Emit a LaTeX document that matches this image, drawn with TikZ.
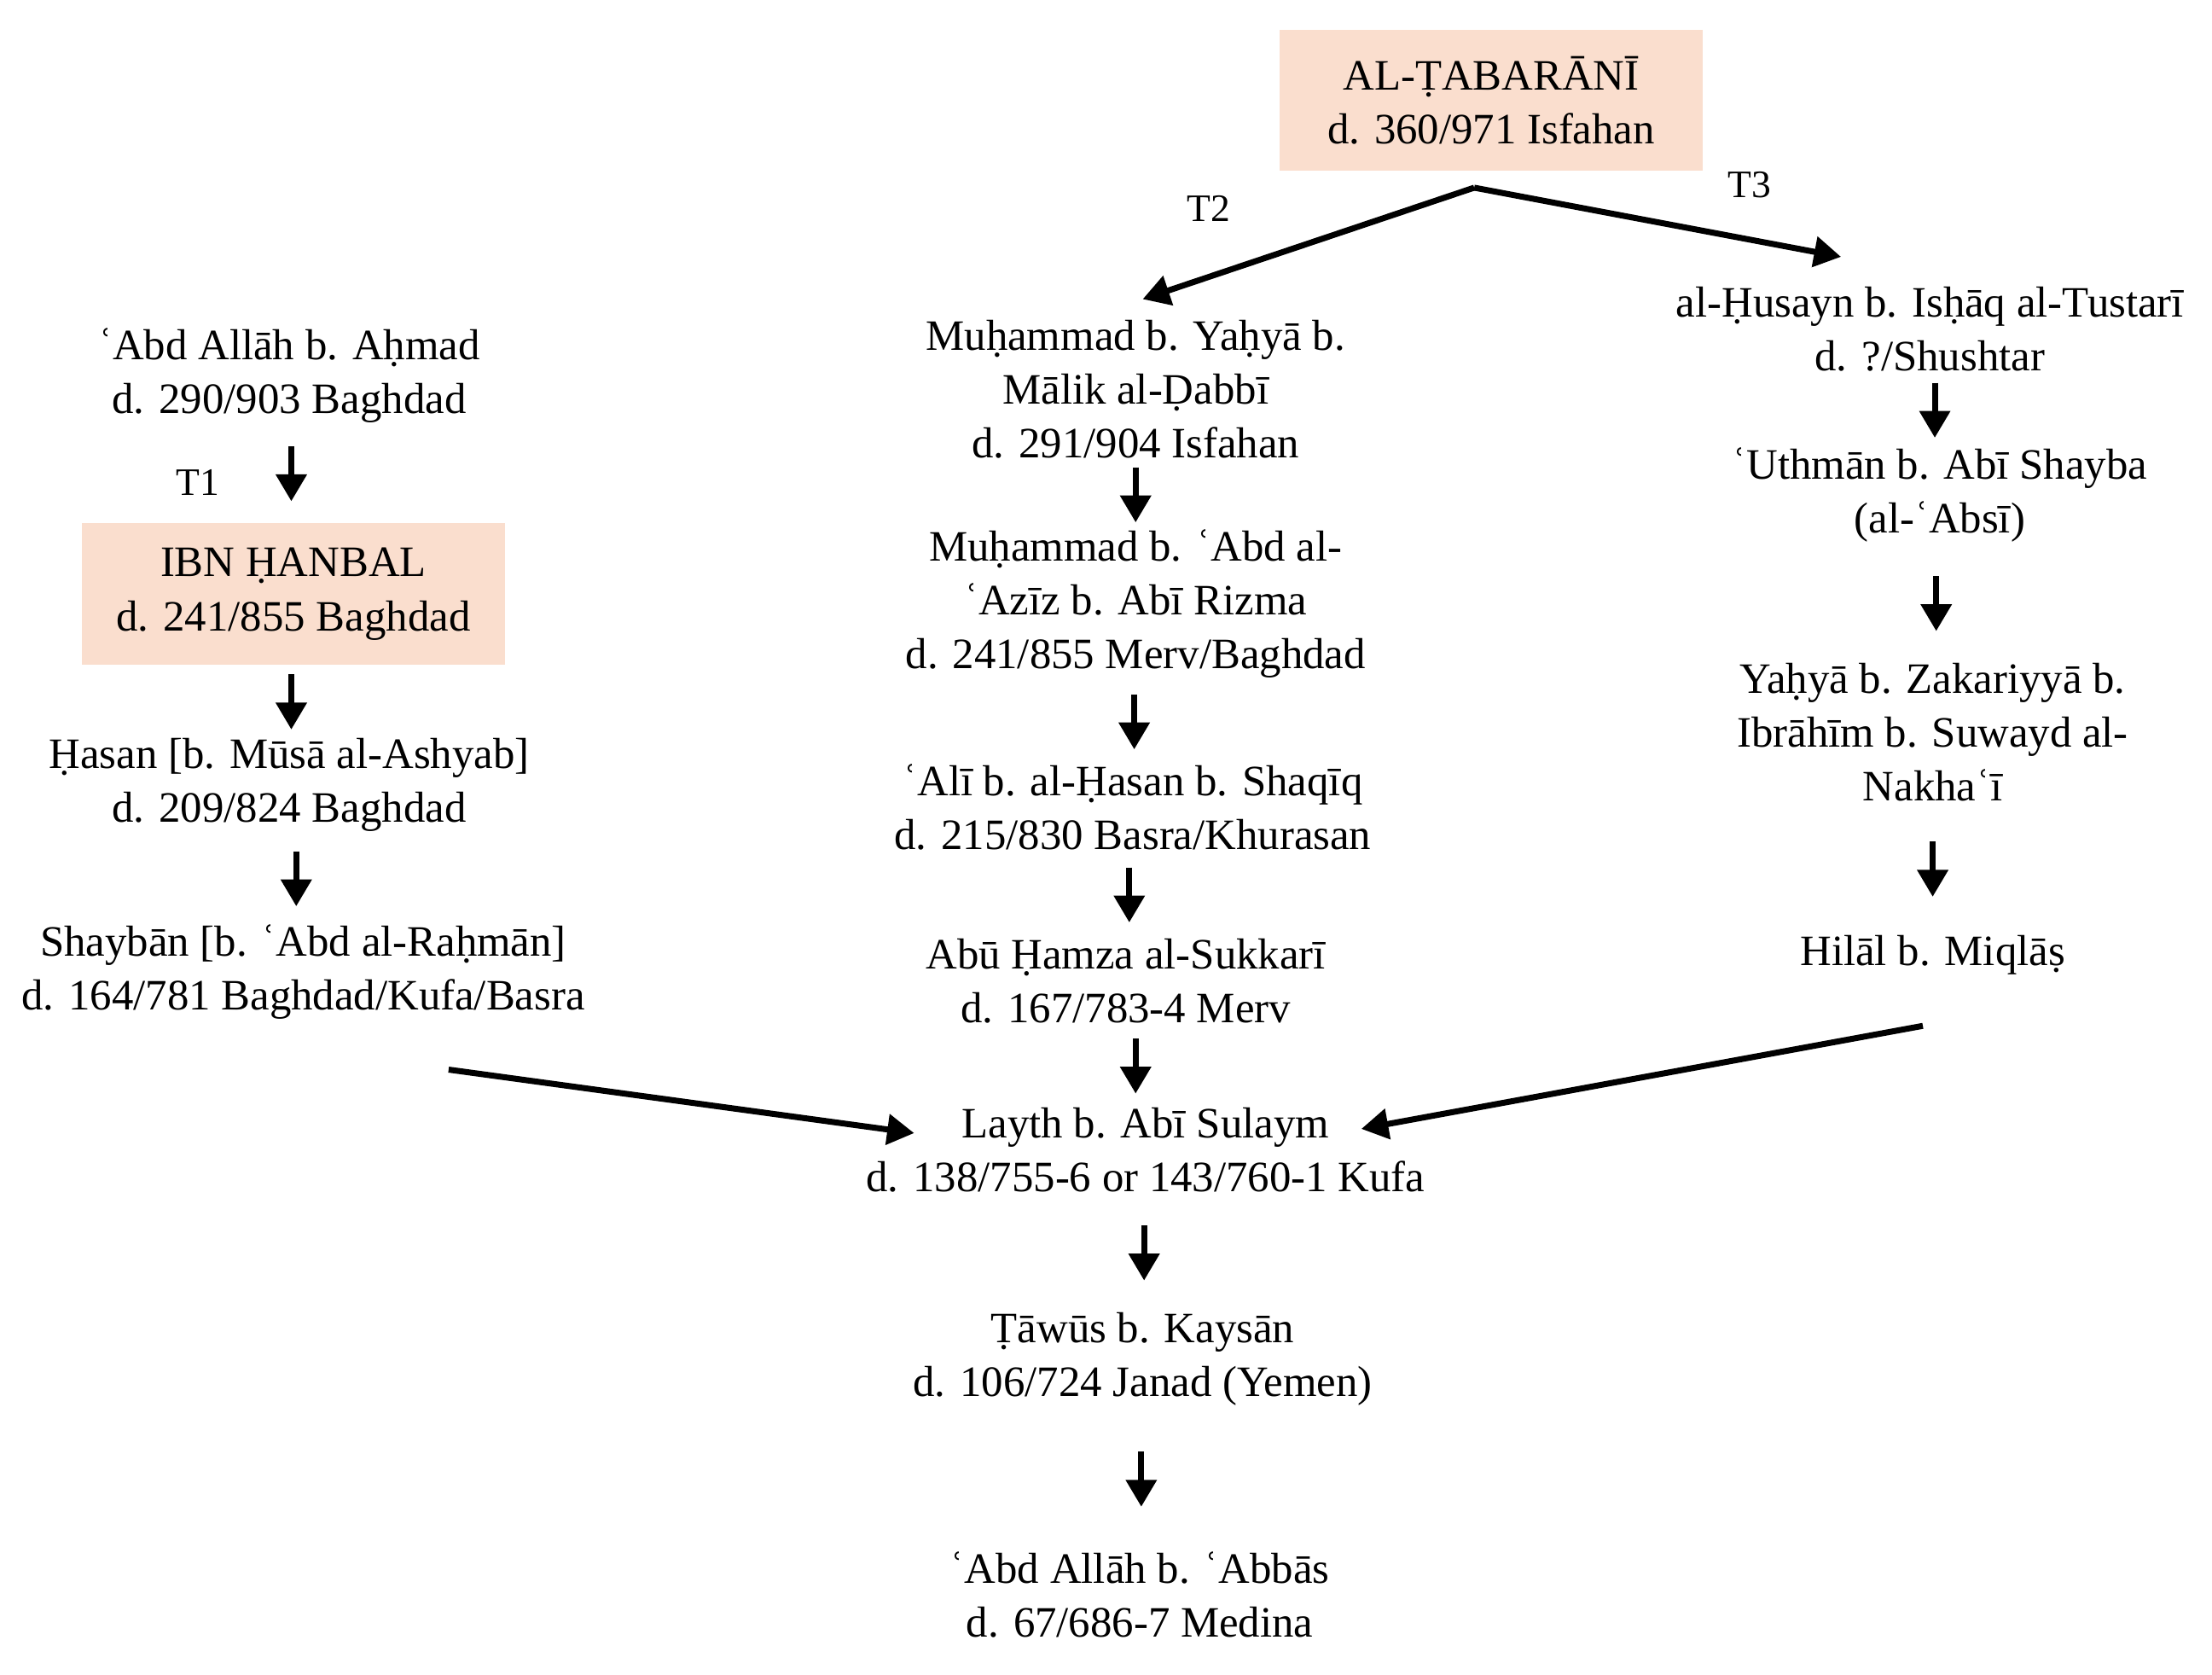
\documentclass[tikz,border=0pt]{standalone}
\usepackage{fontspec}
\setmainfont{Liberation Serif}
\usetikzlibrary{arrows.meta, positioning, calc}
\definecolor{peach}{RGB}{250,222,206}

\newcommand{\stepdown}[2]{\draw [link] ($(#1.south)!0.5!(#2.north)+(0,-19)$) -- ++(0,39);}

\begin{document}
\begin{tikzpicture}[
		x = 0.01658cm, y = -0.01658cm,
		every node/.style = {align = center, inner sep = 0pt, font = \fontsize{14.5}{18}\selectfont},
		box/.style = {fill = peach, minimum width = 4.97cm, minimum height = 1.66cm},
		tag/.style = {font = \fontsize{13}{15}\selectfont},
		link/.style = {line width = 2pt, -{Triangle[length = 9pt, width = 10pt]}}
		]
		\useasboundingbox (0,0) rectangle (1568,1187);
		
		% top
		\node [box] (Tab) at (1057,71) {AL-ṬABARĀNĪ\\d. 360/971 Isfahan};
		
		% left column
		\node (AbdA) at (205,266) {ʿAbd Allāh b. Aḥmad\\d. 290/903 Baghdad};
		\node [box] (IH) at (208,421) {IBN ḤANBAL\\d. 241/855 Baghdad};
		\node (Has) at (205,556) {Ḥasan [b. Mūsā al-Ashyab]\\d. 209/824 Baghdad};
		\node (Shay) at (215,689) {Shaybān [b. ʿAbd al-Raḥmān]\\d. 164/781 Baghdad/Kufa/Basra};
		
		% middle column
		\node (MY) at (805,276) {Muḥammad b. Yaḥyā b.\\Mālik al-Ḍabbī\\d. 291/904 Isfahan};
		\node (MA) at (805,428) {Muḥammad b. ʿAbd al-\\ʿAzīz b. Abī Rizma\\d. 241/855 Merv/Baghdad};
		\node (Ali) at (803,572) {ʿAlī b. al-Ḥasan b. Shaqīq\\d. 215/830 Basra/Khurasan};
		\node (Abu) at (798,695) {Abū Ḥamza al-Sukkarī\\d. 167/783-4 Merv};
		\node (Lay) at (812,815) {Layth b. Abī Sulaym\\d. 138/755-6 or 143/760-1 Kufa};
		\node (Taw) at (810,963) {Ṭāwūs b. Kaysān\\d. 106/724 Janad (Yemen)};
		\node (Abb) at (808,1130) {ʿAbd Allāh b. ʿAbbās\\d. 67/686-7 Medina};
		
		% right column
		\node (Hus) at (1368,233) {al-Ḥusayn b. Isḥāq al-Tustarī\\d. ?/Shushtar};
		\node (Uth) at (1375,351) {ʿUthmān b. Abī Shayba\\(al-ʿAbsī)};
		\node (Yah) at (1370,519) {Yaḥyā b. Zakariyyā b.\\Ibrāhīm b. Suwayd al-\\Nakhaʿī};
		\node (Hil) at (1370,677) {Hilāl b. Miqlāṣ};
		
		% arrow ends
		\coordinate (TabS) at (1045,133);
		\coordinate (MYn) at (810,212);
		\coordinate (Husn) at (1305,182);
		\coordinate (ShayE) at (318,758);
		\coordinate (LayW) at (648,803);
		\coordinate (HilE) at (1363,727);
		\coordinate (LayE) at (965,800);
		
		\draw [link] (TabS) -- (MYn);
		\draw [link] (TabS) -- (Husn);
		\draw [link] (ShayE) -- (LayW);
		\draw [link] (HilE) -- (LayE);
		
		\stepdown{AbdA}{IH}
		\stepdown{IH}{Has}
		\stepdown{Has}{Shay}
		\stepdown{MY}{MA}
		\stepdown{MA}{Ali}
		\stepdown{Ali}{Abu}
		\stepdown{Abu}{Lay}
		\stepdown{Lay}{Taw}
		\stepdown{Taw}{Abb}
		\stepdown{Hus}{Uth}
		\stepdown{Uth}{Yah}
		\stepdown{Yah}{Hil}
		
		% transmission labels
		\node [tag] (T1) at (140,342) {T1};
		\node [tag] (T2) at (857,148) {T2};
		\node [tag] (T3) at (1240,131) {T3};
	\end{tikzpicture}
\end{document}
